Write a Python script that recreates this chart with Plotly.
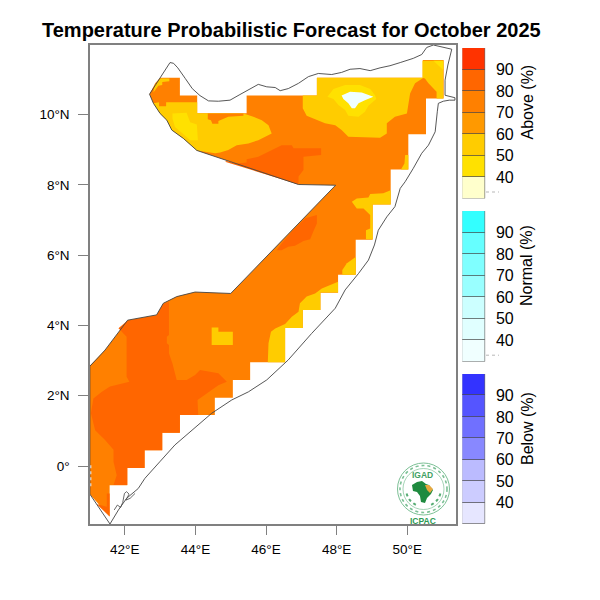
import math
import plotly.graph_objects as go

# lon/lat outlines
base_area = [(43.0, 11.05), (43.56, 11.05), (43.56, 10.54), (44.05, 10.54), (44.05, 10.04), (45.45, 10.04),
             (45.45, 10.54), (47.44, 10.54), (47.44, 11.05), (50.44, 11.05), (50.44, 11.55), (51.03, 11.55),
             (51.03, 10.46), (50.53, 10.46), (50.53, 9.44), (50.03, 9.44), (50.03, 8.44), (49.53, 8.44),
             (49.53, 7.44), (49.02, 7.44), (49.02, 6.44), (48.54, 6.44), (48.54, 5.44), (48.04, 5.44),
             (48.04, 4.93), (47.54, 4.93), (47.54, 4.44), (47.04, 4.44), (47.04, 3.93), (46.54, 3.93),
             (46.54, 2.95), (45.55, 2.95), (45.55, 2.45), (45.06, 2.45), (45.06, 1.94), (44.55, 1.94),
             (44.55, 1.45), (43.56, 1.45), (43.56, 0.95), (43.06, 0.95), (43.06, 0.45), (42.56, 0.45),
             (42.56, -0.06), (42.07, -0.06), (42.07, -0.55), (41.57, -0.55), (41.57, -1.44), (41.01, -0.80),
             (41.01, 2.85), (41.2, 3.04), (41.44, 3.30), (42.08, 4.15), (42.48, 4.22), (42.90, 4.30),
             (43.09, 4.63), (43.47, 4.82), (43.99, 4.95), (45.0, 4.91), (47.97, 7.99), (46.92, 8.01),
             (44.04, 8.98), (43.66, 9.32), (43.33, 9.56), (43.19, 9.84), (43.0, 10.03), (42.81, 10.32),
             (42.70, 10.58), (42.86, 10.89)]

gold_north = [(47.44, 11.05), (47.44, 10.54), (47.04, 10.54), (47.04, 10.18), (47.15, 9.97), (47.39, 9.87),
              (47.67, 9.75), (47.96, 9.70), (48.14, 9.56), (48.33, 9.37), (49.23, 9.34), (49.42, 9.46),
              (49.42, 9.75), (49.65, 9.94), (49.99, 10.03), (50.08, 10.60), (50.22, 10.89), (50.46, 11.05)]
gold_tip = [(50.43, 11.53), (51.02, 11.53), (51.02, 10.46), (50.83, 10.46), (50.83, 10.65), (50.60, 10.89),
            (50.50, 11.03), (50.43, 11.05)]
gold_nw = [(42.84, 10.82), (43.0, 11.03), (43.26, 11.03), (43.26, 10.95), (43.06, 10.93), (43.06, 10.84),
           (42.95, 10.82), (42.81, 10.63)]
gold_west = [(42.81, 10.32), (43.0, 10.03), (43.19, 9.84), (43.33, 9.56), (43.66, 9.32), (44.04, 8.98),
             (44.56, 8.90), (44.70, 8.92), (44.93, 8.99), (45.17, 9.13), (45.50, 9.18), (45.78, 9.27),
             (46.16, 9.46), (46.07, 9.70), (45.88, 9.84), (45.64, 9.94), (45.36, 10.03), (44.05, 10.04),
             (44.05, 10.35), (43.17, 10.35), (43.17, 10.24), (42.97, 10.24), (42.97, 10.35)]
gold_east = [(48.43, 7.52), (48.57, 7.61), (48.90, 7.64), (48.95, 7.74), (49.32, 7.76), (49.53, 7.85),
             (49.53, 7.44), (49.02, 7.44), (49.02, 6.45), (48.83, 6.45), (48.83, 6.71), (48.95, 6.76),
             (48.95, 7.14), (48.76, 7.33), (48.57, 7.33)]
gold_ne_coast = [(49.94, 8.85), (50.03, 8.85), (50.03, 8.44), (49.82, 8.44), (49.92, 8.61)]
gold_strip_a = [(48.54, 5.95), (48.54, 5.44), (48.16, 5.44), (48.16, 5.58), (48.29, 5.77), (48.43, 5.86)]
gold_strip_b = [(48.04, 5.24), (47.81, 5.15), (47.58, 5.05), (47.39, 4.91), (47.15, 4.82), (46.96, 4.63),
                (46.92, 4.39), (46.73, 4.25), (46.54, 4.04), (46.26, 3.91), (46.14, 3.82), (46.07, 3.49),
                (46.05, 2.95), (46.54, 2.95), (46.54, 3.93), (47.04, 3.93), (47.04, 4.44), (47.54, 4.44),
                (47.54, 4.94), (48.04, 4.94)]
gold_patch = [(44.46, 3.94), (44.65, 3.94), (44.65, 3.82), (45.06, 3.82), (45.06, 3.44), (44.46, 3.44)]

orange_patch = [(44.35, 10.03), (45.36, 10.03), (45.36, 9.97), (44.93, 9.94), (44.65, 9.82), (44.65, 9.74),
                (44.48, 9.74), (44.44, 9.84), (44.35, 9.87)]

yellow_centre = [(48.24, 10.84), (48.66, 10.84), (48.95, 10.73), (49.09, 10.54), (49.12, 10.44), (48.90, 10.25),
                 (48.80, 10.08), (48.62, 9.94), (48.33, 9.97), (48.24, 10.13), (48.05, 10.27), (47.91, 10.44),
                 (47.74, 10.51), (47.91, 10.73)]
yellow_west = [(43.35, 10.03), (43.75, 10.05), (43.85, 9.78), (44.04, 9.72), (44.07, 9.27), (43.85, 9.27),
               (43.66, 9.44), (43.42, 9.65), (43.35, 9.89)]
yellow_tip = [(50.74, 11.53), (51.02, 11.53), (51.02, 11.27), (50.88, 11.41)]

pale_centre = [(48.14, 10.54), (48.38, 10.65), (48.71, 10.63), (49.04, 10.51), (48.80, 10.41), (48.62, 10.32),
               (48.52, 10.18), (48.43, 10.18), (48.33, 10.32), (48.19, 10.44)]

dark_north = [(46.92, 8.01), (46.92, 8.24), (47.06, 8.42), (47.06, 8.80), (47.56, 8.85), (47.56, 9.04),
              (46.78, 9.04), (46.73, 9.13), (46.44, 9.13), (46.26, 9.04), (46.02, 8.90), (45.78, 8.80),
              (45.45, 8.73), (45.45, 8.64), (45.17, 8.61), (44.89, 8.68), (44.84, 8.66), (45.50, 8.45),
              (46.26, 8.20)]
dark_centre = [(46.30, 6.14), (46.44, 6.33), (46.73, 6.67), (47.11, 7.05), (47.44, 7.14), (47.44, 6.90),
               (47.34, 6.67), (47.25, 6.45), (47.06, 6.40), (46.82, 6.27), (46.63, 6.24), (46.44, 6.14)]
dark_south = [(42.05, 3.30), (42.05, 2.54), (42.13, 2.40), (41.58, 2.26), (41.35, 2.11), (41.11, 1.92),
              (41.04, 1.50), (41.16, 1.02), (41.44, 0.74), (41.68, 0.46), (41.68, 0.12), (41.77, -0.26),
              (41.68, -0.54), (42.07, -0.54), (42.07, -0.06), (42.56, -0.06), (42.56, 0.45), (43.06, 0.45),
              (43.06, 0.95), (43.56, 0.95), (43.56, 1.45), (44.08, 1.45), (44.06, 1.88), (44.32, 2.07),
              (44.65, 2.30), (44.89, 2.40), (44.65, 2.64), (44.13, 2.73), (43.99, 2.59), (43.75, 2.45),
              (43.47, 2.45), (43.35, 2.92), (43.25, 3.21), (43.25, 3.44), (43.19, 3.49), (43.19, 3.68),
              (43.25, 3.73), (43.25, 4.67), (43.09, 4.61), (42.90, 4.28), (42.48, 4.20), (42.08, 4.14),
              (41.82, 3.92), (42.05, 3.68)]
dark_tip = [(41.49, -0.78), (41.57, -0.78), (41.57, -1.44), (41.20, -1.08), (41.49, -1.16)]

border = [(42.70, 10.58), (43.28, 11.48), (43.38, 11.46), (43.50, 11.33), (43.71, 11.03), (43.91, 10.74),
          (44.13, 10.54), (44.37, 10.39), (44.65, 10.38), (44.98, 10.41), (45.26, 10.57), (45.50, 10.70),
          (45.78, 10.86), (46.02, 10.79), (46.26, 10.77), (46.40, 10.68), (46.63, 10.74), (46.92, 10.89),
          (47.20, 11.08), (47.48, 11.17), (47.86, 11.14), (48.14, 11.20), (48.38, 11.29), (48.66, 11.31),
          (48.95, 11.25), (49.23, 11.33), (49.51, 11.39), (49.80, 11.48), (50.17, 11.60), (50.41, 11.71),
          (50.55, 11.91), (50.74, 11.98), (51.26, 11.86), (51.15, 11.41), (51.07, 10.98), (51.07, 10.55),
          (51.21, 10.51), (51.35, 10.48), (51.35, 10.41), (51.19, 10.41), (51.02, 10.38), (50.88, 10.32),
          (50.85, 10.08), (50.79, 9.51), (50.60, 9.13), (50.41, 8.90), (50.17, 8.47), (49.94, 8.09),
          (49.80, 7.90), (49.65, 7.38), (49.42, 7.09), (49.18, 6.71), (49.07, 6.29), (48.90, 5.86),
          (48.62, 5.48), (48.24, 5.01), (47.96, 4.49), (47.29, 3.77), (46.63, 3.02), (46.54, 2.94),
          (46.02, 2.45), (45.50, 2.11), (45.03, 1.88), (44.46, 1.50), (43.89, 1.02), (43.42, 0.60),
          (42.99, 0.12), (42.57, -0.35), (42.38, -0.64), (42.05, -0.92), (41.82, -1.25), (41.58, -1.65),
          (41.01, -0.80), (41.01, 2.84), (41.20, 3.04), (41.44, 3.30), (42.08, 4.15), (42.48, 4.22),
          (42.90, 4.30), (43.09, 4.63), (43.47, 4.82), (43.99, 4.95), (45.0, 4.91), (47.97, 7.99),
          (46.92, 8.01), (44.04, 8.98), (43.66, 9.32), (43.33, 9.56), (43.19, 9.84), (43.0, 10.03),
          (42.81, 10.32), (42.70, 10.58)]
islands = [(41.70, -1.25), (41.79, -1.11), (41.88, -1.18), (41.94, -1.04), (41.99, -0.78), (42.05, -0.73),
           (42.12, -0.80), (42.03, -0.97), (42.15, -0.92), (42.29, -0.78)]
gap_west = [(41.03, 0.02), (41.03, -0.62)]

lon_ticks = [42, 44, 46, 48, 50]
lon_labels = ['42°E', '44°E', '46°E', '48°E', '50°E']
lat_ticks = [0, 2, 4, 6, 8, 10]
lat_labels = ['0°', '2°N', '4°N', '6°N', '8°N', '10°N']

legend_ticks = [40, 50, 60, 70, 80, 90]
legend_edges = [30, 40, 50, 60, 70, 80, 90]
above_colors = ['#FFFFCC', '#FFE100', '#FFCC00', '#FF9900', '#FF8000', '#FF6600', '#FF3300']
normal_colors = ['#F0FFFF', '#E0FFFF', '#CCFFFF', '#99FFFF', '#7FFFFF', '#66FFFF', '#33FFFF']
below_colors = ['#E6E6FF', '#CCCCFF', '#BBBBFF', '#8888FF', '#7070FF', '#5555FF', '#3333FF']

GOLD = '#FFCC00'
YELLOW = '#FFE100'
ORANGE = '#FF8000'
DARK = '#FF6600'
PALE = '#F0FFFF'
FONT = 'Liberation Sans'

# the page body has an 8px margin, so the figure starts at (8, 8) in the window
FIG_SIZE = 592


def px(x):
    return (x - 8) / FIG_SIZE


def py(y):
    return 1 - (y - 8) / FIG_SIZE


fig = go.Figure()


def add_region(points, color):
    lon, lat = zip(*points)
    fig.add_trace(go.Scatter(x=list(lon) + [lon[0]], y=list(lat) + [lat[0]], mode='lines', fill='toself',
                             fillcolor=color, line=dict(width=0), hoverinfo='skip', showlegend=False))


add_region(base_area, ORANGE)
for region in [gold_north, gold_tip, gold_nw, gold_west, gold_east, gold_ne_coast, gold_strip_a, gold_strip_b, gold_patch]:
    add_region(region, GOLD)
add_region(orange_patch, ORANGE)
for region in [yellow_centre, yellow_west, yellow_tip]:
    add_region(region, YELLOW)
add_region(pale_centre, PALE)
for region in [dark_north, dark_centre, dark_south, dark_tip]:
    add_region(region, DARK)

# white dashes where the forecast cells stop short of the border
lon, lat = zip(*gap_west)
fig.add_trace(go.Scatter(x=lon, y=lat, mode='lines', line=dict(color='white', width=1.5, dash='3px,3px'),
                         hoverinfo='skip', showlegend=False))

# coast and borders
for line_pts, w in [(border, 0.9), (islands, 0.8)]:
    lon, lat = zip(*line_pts)
    fig.add_trace(go.Scatter(x=lon, y=lat, mode='lines', line=dict(color='#444444', width=w),
                             hoverinfo='skip', showlegend=False))

axis_style = dict(showgrid=False, zeroline=False, showline=True, mirror=True, linecolor='#808080', linewidth=1.5,
                  ticks='outside', ticklen=9.5, tickwidth=1, tickcolor='#808080',
                  tickfont=dict(family=FONT, size=13.5, color='black'))

fig.update_layout(
    width=FIG_SIZE, height=FIG_SIZE, margin=dict(l=0, r=0, t=0, b=0), paper_bgcolor='white', plot_bgcolor='white',
    showlegend=False, barmode='overlay', bargap=0,
    xaxis=dict(domain=[px(89.5), px(456)], range=[41.0, 51.38], tickvals=lon_ticks, ticktext=lon_labels,
               ticklabelstandoff=3, **axis_style),
    yaxis=dict(domain=[py(524), py(45)], range=[-1.65, 11.98], tickvals=lat_ticks, ticktext=lat_labels,
               ticklabelstandoff=6, **axis_style),
)

# the three legend columns are bars on their own axes
legends = [('Above (%)', above_colors, 48, 198.5, 102.5),
           ('Normal (%)', normal_colors, 211, 361.7, 266),
           ('Below (%)', below_colors, 374, 524.3, 429)]
annotations = []
shapes = []


def paper_text(text, x, y, size, color='black', angle=0):
    annotations.append(dict(text=text, x=px(x), y=py(y), xref='paper', yref='paper', textangle=angle, showarrow=False,
                            xanchor='center', yanchor='middle', font=dict(family=FONT, size=size, color=color)))


for i, (name, colors, top, bottom, mid) in enumerate(legends):
    n = i + 2
    fig.add_trace(go.Bar(x=[0] * len(colors), y=[10] * len(colors), base=legend_edges, width=1,
                         marker=dict(color=colors, line=dict(color='rgba(60,60,60,0.55)', width=1)),
                         xaxis=f'x{n}', yaxis=f'y{n}', hoverinfo='skip', showlegend=False))
    fig.layout[f'xaxis{n}'] = dict(domain=[px(462.3), px(485.7)], range=[-0.5, 0.5], visible=False, anchor=f'y{n}')
    fig.layout[f'yaxis{n}'] = dict(domain=[py(bottom), py(top)], range=[30, 100], side='right', anchor=f'x{n}',
                                   showgrid=False, zeroline=False, showline=False, tickvals=legend_ticks,
                                   ticks='outside', ticklen=6, tickcolor='rgba(0,0,0,0)',
                                   tickfont=dict(family=FONT, size=16, color='black'))
    paper_text(name, 527, mid, 16, angle=-90)
    if i < 2:
        tick_y = bottom - 6.5
        shapes.append(dict(type='line', xref='paper', yref='paper', x0=px(486), x1=px(499), y0=py(tick_y), y1=py(tick_y),
                           line=dict(color='#999999', width=0.7, dash='dot')))

paper_text('<b>Temperature Probabilistic Forecast for October 2025</b>', 291.5, 30, 20)

# IGAD / ICPAC logo
LOGO = '#2f9a55'
LOGO_X, LOGO_Y = 423.5, 489
paper_text('<b>IGAD</b>', 422.7, 475, 8.5, '#3f9f63')
paper_text('<b>ICPAC</b>', 422.5, 520.5, 8.5, LOGO)
for r, w, dash in [(26, 1, 'solid'), (23.5, 1.6, 'dot'), (20.5, 0.7, 'solid')]:
    shapes.append(dict(type='circle', xref='paper', yref='paper', x0=px(LOGO_X - r), x1=px(LOGO_X + r),
                       y0=py(LOGO_Y - r), y1=py(LOGO_Y + r), line=dict(color='#7cc095', width=w, dash=dash)))


def logo_path(points):
    return 'M ' + ' L '.join(f'{px(x):.4f},{py(y):.4f}' for x, y in points) + ' Z'


africa = [(412, 485), (417, 482), (422, 481), (426, 484), (429, 485), (433, 490), (431, 494), (427, 498),
          (425, 503), (421, 502), (420, 496), (417, 492), (413, 491)]
horn = [(425, 485), (429, 485), (433, 489), (430, 493), (427, 490)]
shapes.append(dict(type='path', xref='paper', yref='paper', path=logo_path(africa), fillcolor='#1f8a3f', line=dict(width=0)))
shapes.append(dict(type='path', xref='paper', yref='paper', path=logo_path(horn), fillcolor='#e8a83f', line=dict(width=0)))
for side in (-1, 1):
    arc = []
    for a in range(15, 75, 7):
        t = math.radians(a)
        arc.append((LOGO_X + side * 17.5 * math.cos(t), LOGO_Y + 17.5 * math.sin(t)))
    shapes.append(dict(type='path', xref='paper', yref='paper',
                       path='M ' + ' L '.join(f'{px(x):.4f},{py(y):.4f}' for x, y in arc),
                       line=dict(color='#58ad75', width=2, dash='dot')))

fig.update_layout(annotations=annotations, shapes=shapes)
fig.write_html("out.html")
